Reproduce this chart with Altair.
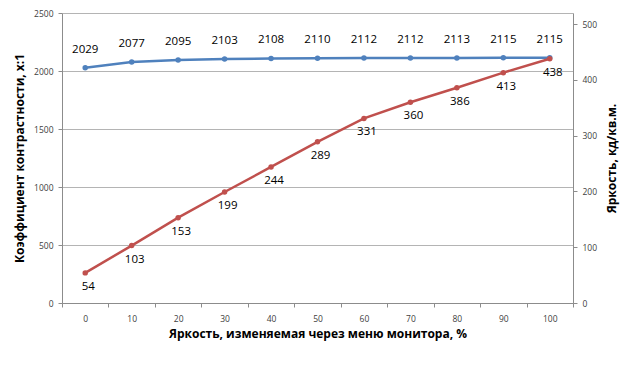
import altair as alt
import pandas as pd

categories = ["0", "10", "20", "30", "40", "50", "60", "70", "80", "90", "100"]
contrast = [2029, 2077, 2095, 2103, 2108, 2110, 2112, 2112, 2113, 2115, 2115]
brightness = [54, 103, 153, 199, 244, 289, 331, 360, 386, 413, 438]

df = pd.DataFrame({"x": categories, "contrast": contrast, "bright": brightness})

BLUE = "#4F81BD"
RED = "#C0504D"
FONT = "Open Sans"

xenc = alt.X(
    "x:N",
    sort=categories,
    bandPosition=0.5,
    scale=alt.Scale(type="band", paddingInner=0, paddingOuter=0),
    axis=alt.Axis(
        title="Яркость, изменяемая через меню монитора, %",
        tickBand="extent",
        labelAngle=0,
        labelPadding=7,
        tickSize=4,
        titlePadding=6,
    ),
)

yleft = alt.Y(
    "contrast:Q",
    scale=alt.Scale(domain=[0, 2500], nice=False),
    axis=alt.Axis(
        title="Коэффициент контрастности, x:1",
        values=[0, 500, 1000, 1500, 2000, 2500],
        format="d",
        grid=True,
        tickSize=4,
        labelPadding=5,
        titlePadding=7,
    ),
)

yright = alt.Y(
    "bright:Q",
    scale=alt.Scale(domain=[0, 520], nice=False),
    axis=alt.Axis(
        title="Яркость, кд/кв.м.",
        orient="right",
        values=[0, 100, 200, 300, 400, 500],
        format="d",
        grid=False,
        tickSize=4,
        labelPadding=5,
        titlePadding=22,
        titleAngle=270,
    ),
)

base = alt.Chart(df)

blue_line = base.mark_line(color=BLUE, strokeWidth=2.5).encode(x=xenc, y=yleft)
blue_pts = base.mark_circle(color=BLUE, size=30, opacity=1).encode(x=xenc, y=yleft)
blue_txt = base.mark_text(dy=-18, font=FONT, fontSize=11.5, color="#000000").encode(
    x=xenc, y=yleft, text="contrast:Q"
)

red_line = base.mark_line(color=RED, strokeWidth=2.5).encode(x=xenc, y=yright)
red_pts = base.mark_circle(color=RED, size=30, opacity=1).encode(x=xenc, y=yright)
red_txt = base.mark_text(dy=14, dx=3, font=FONT, fontSize=11.5, color="#000000").encode(
    x=xenc, y=yright, text="bright:Q"
)

left = alt.layer(blue_line, blue_pts, blue_txt)
right = alt.layer(red_line, red_pts, red_txt)

chart = (
    alt.layer(left, right)
    .resolve_scale(y="independent")
    .properties(
        width=511,
        height=290,
        autosize=alt.AutoSizeParams(type="none"),
        padding={"left": 54, "top": 5, "right": 59, "bottom": 55},
        background="white",
    )
    .configure_view(stroke=None)
    .configure_axis(
        labelFont=FONT,
        labelFontSize=8.5,
        labelColor="#404040",
        titleFont=FONT,
        titleFontSize=12,
        titleFontWeight="bold",
        titleColor="#000000",
        domainColor="#8C8C8C",
        tickColor="#8C8C8C",
        gridColor="#B4B4B4",
        domainWidth=1,
        tickWidth=1,
    )
)

chart.save("out.html", embed_options={"renderer": "svg", "actions": False})
